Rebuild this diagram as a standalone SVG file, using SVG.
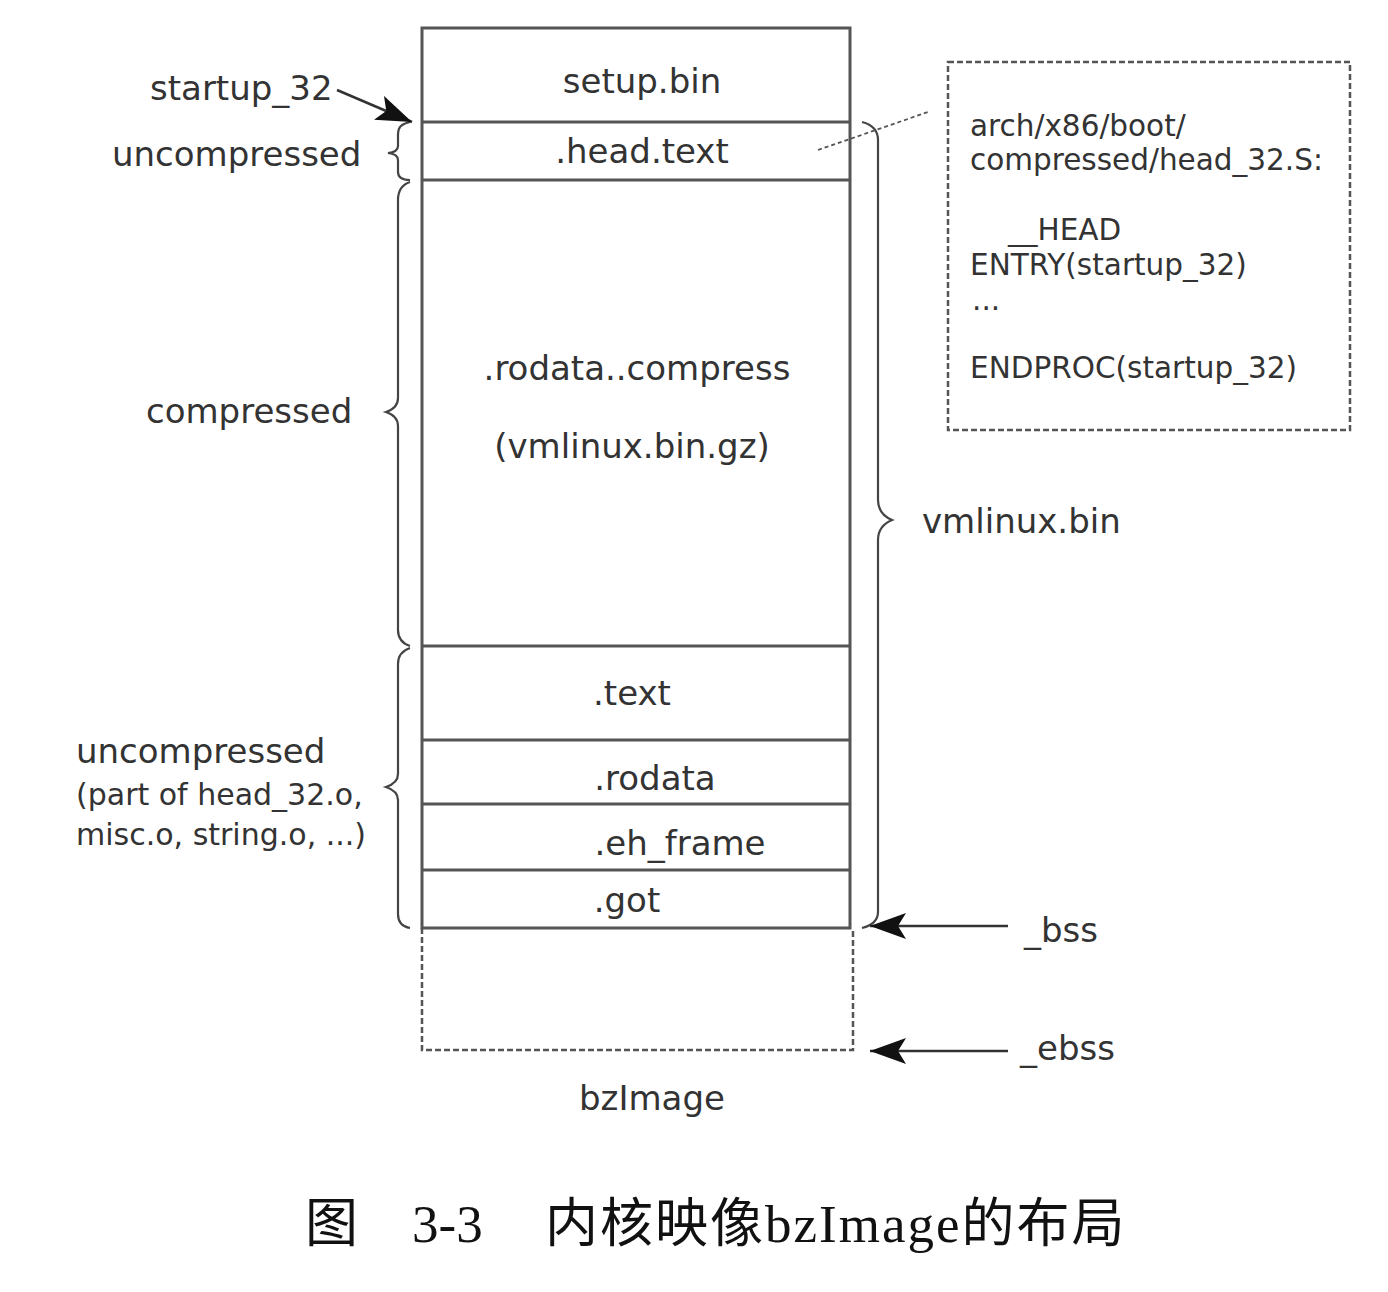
<svg xmlns="http://www.w3.org/2000/svg" width="1388" height="1292" viewBox="0 0 1388 1292">
<style>
.t{font-family:"DejaVu Sans",Verdana,sans-serif;fill:#333;font-size:34px}
.s{font-size:29.5px}
.m{font-size:30px}
.box{fill:none;stroke:#555;stroke-width:3}
.sep{stroke:#555;stroke-width:3}
.dash{fill:none;stroke:#555;stroke-width:2.5;stroke-dasharray:6 3}
.br{fill:none;stroke:#444;stroke-width:2.2}
.ar{stroke:#333;stroke-width:2.5;fill:none}
.cap{font-family:"Liberation Serif","Noto Sans CJK SC",serif;font-size:53px;fill:#111}
</style>
<defs>
<marker id="big" viewBox="0 0 36 26" refX="36" refY="13" markerWidth="36" markerHeight="26" markerUnits="userSpaceOnUse" orient="auto">
<path d="M0,0 L36,13 L0,26 L8,13 z" fill="#111"/>
</marker>
</defs>
<rect width="1388" height="1292" fill="#fff"/>

<g id="image">
<rect class="box" x="422" y="28" width="428" height="900"/>
<path class="dash" d="M422,928 V1050 H853 V928"/>
</g>
<g id="setup"><text class="t" x="642" y="93" text-anchor="middle">setup.bin</text></g>
<g id="headtext"><line class="sep" x1="422" y1="122" x2="850" y2="122"/><text class="t" x="642" y="163" text-anchor="middle">.head.text</text></g>
<g id="rodatacompress"><line class="sep" x1="422" y1="180" x2="850" y2="180"/>
<text class="t" x="637" y="380" text-anchor="middle">.rodata..compress</text>
<text class="t" x="632" y="458" text-anchor="middle">(vmlinux.bin.gz)</text></g>
<g id="text"><line class="sep" x1="422" y1="646" x2="850" y2="646"/><text class="t" x="632" y="705" text-anchor="middle">.text</text></g>
<g id="rodata"><line class="sep" x1="422" y1="740" x2="850" y2="740"/><text class="t" x="655" y="790" text-anchor="middle">.rodata</text></g>
<g id="ehframe"><line class="sep" x1="422" y1="804" x2="850" y2="804"/><text class="t" x="680" y="855" text-anchor="middle">.eh_frame</text></g>
<g id="got"><line class="sep" x1="422" y1="870" x2="850" y2="870"/><text class="t" x="627" y="912" text-anchor="middle">.got</text></g>
<g id="bzimage"><text class="t" x="652" y="1110" text-anchor="middle">bzImage</text></g>

<g id="codebox">
<rect class="dash" x="948" y="62" width="402" height="368"/>
<text class="t s" x="970" y="136">arch/x86/boot/</text>
<text class="t s" x="970" y="170">compressed/head_32.S:</text>
<text class="t s" x="1008" y="240">__HEAD</text>
<text class="t s" x="970" y="275">ENTRY(startup_32)</text>
<text class="t s" x="972" y="310">...</text>
<text class="t s" x="970" y="378">ENDPROC(startup_32)</text>
</g>

<g id="labels">
<text class="t" x="150" y="100">startup_32</text>
<text class="t" x="112" y="166">uncompressed</text>
<text class="t" x="146" y="423">compressed</text>
<text class="t" x="76" y="763">uncompressed</text>
<text class="t m" x="76" y="805">(part of head_32.o,</text>
<text class="t m" x="76" y="845">misc.o, string.o, ...)</text>
<text class="t" x="922" y="533">vmlinux.bin</text>
<text class="t" x="1024" y="942">_bss</text>
<text class="t" x="1020" y="1060">_ebss</text>
</g>

<g id="connectors">
<path class="br" d="M410,122 Q398,124 398,134 V146 Q398,152 388,153 Q398,154 398,160 V172 Q398,180 410,180"/>
<path class="br" d="M410,182 Q398,186 398,200 V398 Q398,408 386,412 Q398,416 398,426 V630 Q398,642 410,646"/>
<path class="br" d="M410,648 Q398,652 398,664 V774 Q398,783 386,787 Q398,791 398,800 V914 Q398,926 410,928"/>
<path class="br" d="M862,122 Q878,126 878,140 V500 Q878,514 892,520 Q878,526 878,540 V912 Q878,924 862,928"/>
<path class="dash" style="stroke-dasharray:4 3;stroke-width:1.8" d="M818,150 L928,112"/>
<path class="ar" d="M337,90 L412,122" marker-end="url(#big)"/>
<path class="ar" d="M1008,926 L870,926" marker-end="url(#big)"/>
<path class="ar" d="M1008,1051 L870,1051" marker-end="url(#big)"/>
</g>

<g id="caption">
<text class="cap" x="305" y="1242">图</text>
<text class="cap" x="412" y="1242">3-3</text>
<text class="cap" x="545" y="1242" letter-spacing="2">内核映像bzImage的布局</text>
</g>
</svg>
